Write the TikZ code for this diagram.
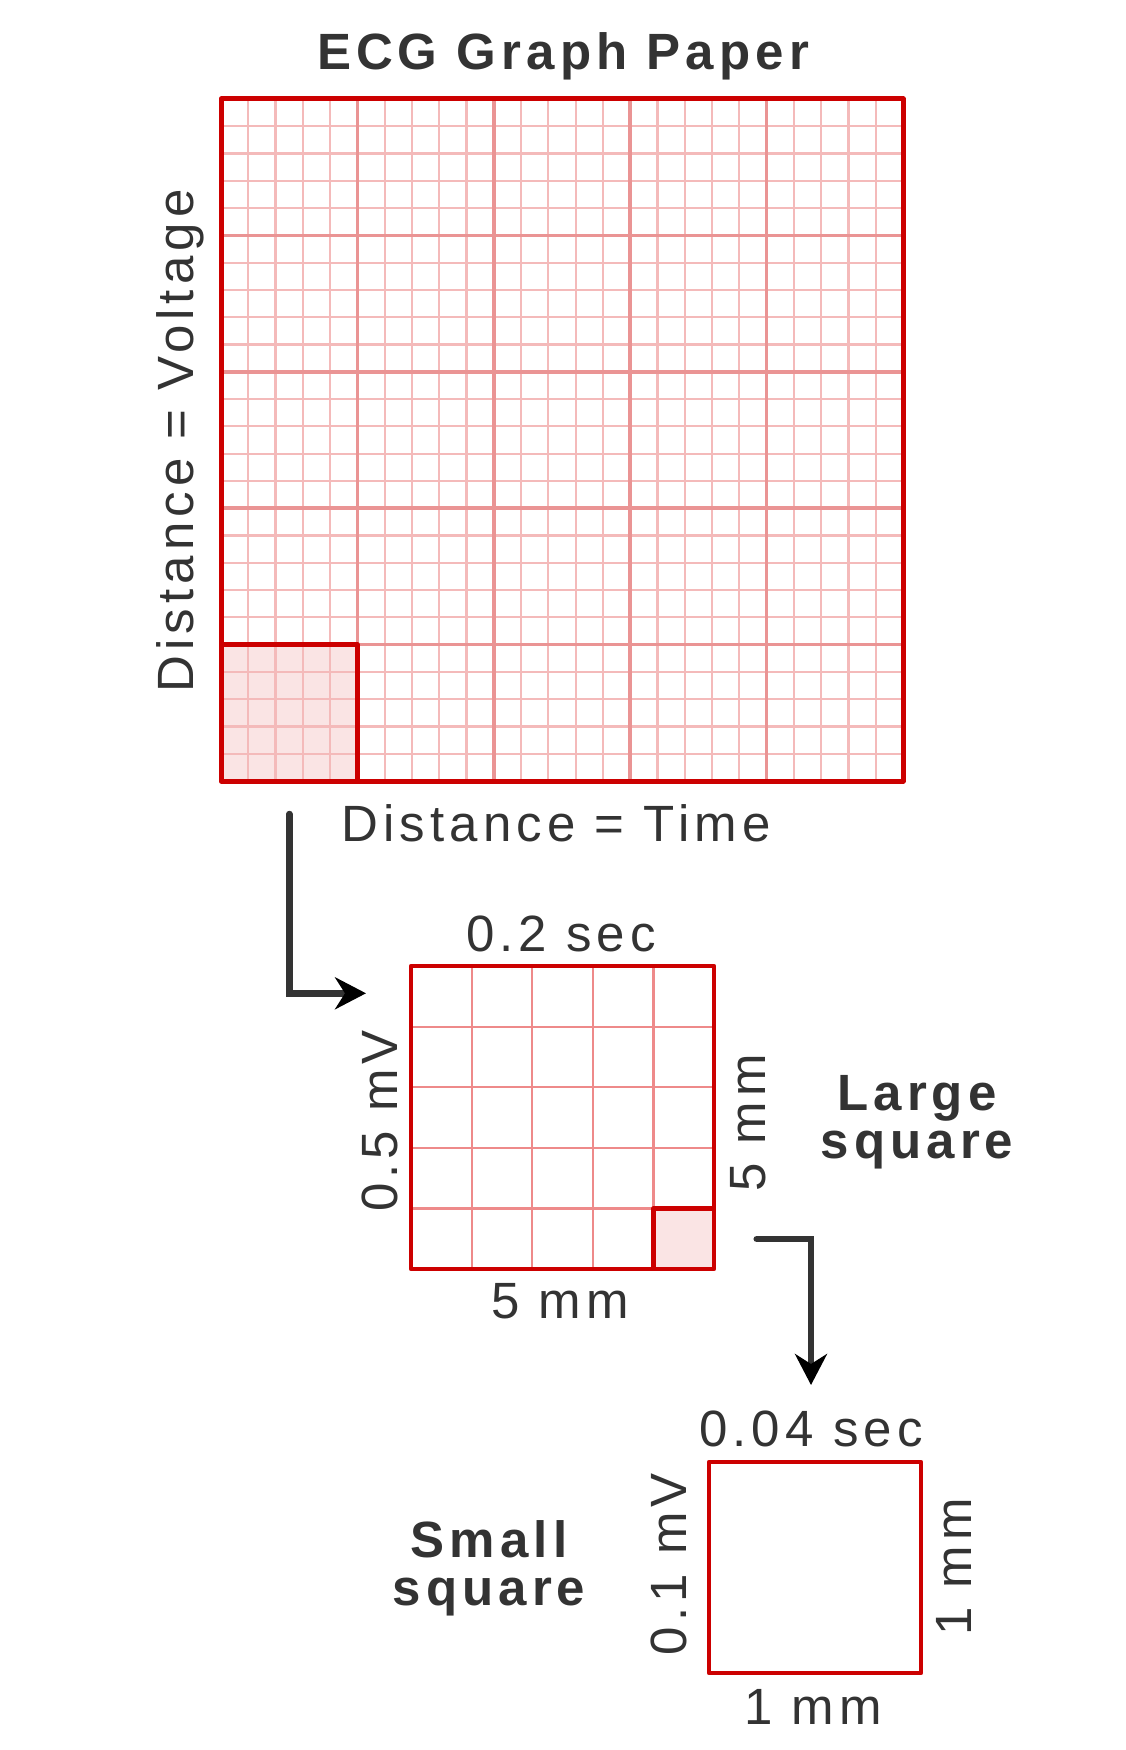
\documentclass[tikz,border=0pt]{standalone}
\usepackage{fontspec}
\setmainfont{Liberation Sans}[LetterSpace=10]
\usetikzlibrary{arrows.meta}
\definecolor{ecgred}{HTML}{CC0000}
\definecolor{ecgminor}{HTML}{F4BABA}
\definecolor{ecgmajor}{HTML}{EA9494}
\definecolor{ecginner}{HTML}{EE8A8A}
\definecolor{ecgfill}{HTML}{FAE4E4}
\definecolor{ink}{HTML}{333333}
\begin{document}
\begin{tikzpicture}[x=1pt,y=-1pt,
	every node/.style={text=ink,font=\fontsize{51}{60}\selectfont,inner sep=0pt,anchor=base},
	bold/.style={font=\fontsize{51}{60}\selectfont\bfseries},
	up/.style={rotate=90},
	minor/.style={ecgminor,line width=2.2pt},
	major/.style={ecgmajor,line width=3.5pt},
	inner/.style={ecginner,line width=2.2pt},
	edge/.style={ecgred,line width=4.5pt,line join=round},
	arr/.style={ink,line width=6.5pt,line cap=round,-{Stealth[length=31pt,width=32pt,inset=10pt,color=black]}}]
\useasboundingbox (0,0) rectangle (1125,1750);
% graph paper
\fill[ecgfill] (221,644.6) rectangle (357.4,781);
\foreach \i in {1,...,24}{
	\draw[minor] ({221+\i*27.28},99) -- ({221+\i*27.28},781);
	\draw[minor] (221,{99+\i*27.28}) -- (903,{99+\i*27.28});
}
\foreach \i in {5,10,15,20}{
	\draw[major] ({221+\i*27.28},99) -- ({221+\i*27.28},781);
	\draw[major] (221,{99+\i*27.28}) -- (903,{99+\i*27.28});
}
\draw[edge] (221,644.6) -| (357.4,781);
\draw[edge,line width=5pt] (221,99) rectangle (903,781);
% large square
\fill[ecgfill] (653.4,1208.4) rectangle (714,1269);
\foreach \i in {1,...,4}{
	\draw[inner] ({411+\i*60.6},966) -- ({411+\i*60.6},1269);
	\draw[inner] (411,{966+\i*60.6}) -- (714,{966+\i*60.6});
}
\draw[edge] (653.4,1269) |- (714,1208.4);
\draw[edge] (411,966) rectangle (714,1269);
% small square
\draw[edge] (709,1462) rectangle (921,1673);
\node[bold] (title) at (563,70) {ECG Graph Paper};
\node[up] (volt) at (193.6,441) {Distance = Voltage};
\node (time) at (556,841.7) {Distance = Time};
\node (lgtop) at (561,951) {0.2 sec};
\node (lgbot) at (560,1318) {5 mm};
\node[up] (lgleft) at (397,1121) {0.5 mV};
\node[up] (lgright) at (765,1123) {5 mm};
\node[bold] (lgname) at (917,1110) {Large};
\node[bold] (lgname2) at (917,1158) {square};
\node (smtop) at (811,1446) {0.04 sec};
\node (smbot) at (813,1724) {1 mm};
\node[up] (smleft) at (686.7,1564) {0.1 mV};
\node[up] (smright) at (971.7,1567) {1 mm};
\node[bold] (smname) at (489,1557) {Small};
\node[bold] (smname2) at (489,1605) {square};
\coordinate (a1) at (289.3,814);
\coordinate (a1e) at (366,993.3);
\draw[arr] (a1) |- (a1e);
\coordinate (a2) at (756.7,1239);
\coordinate (a2e) at (811,1385);
\draw[arr] (a2) -| (a2e);
\end{tikzpicture}
\end{document}
